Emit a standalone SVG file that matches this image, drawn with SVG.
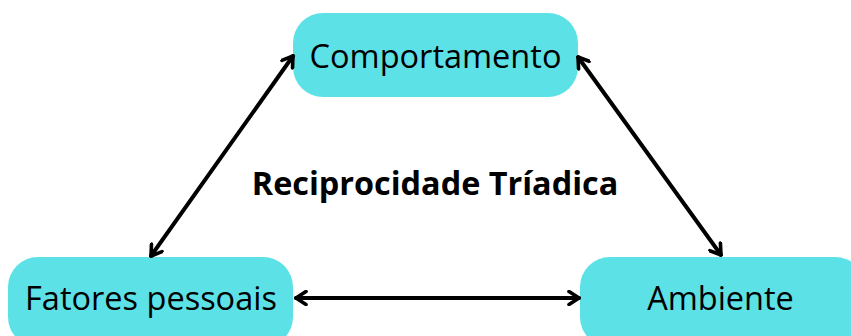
<svg xmlns="http://www.w3.org/2000/svg" width="851" height="336" viewBox="0 0 851 336">
<style>
.box{fill:#5ce1e6;}
.lbl{font-family:"Open Sans","Noto Sans",sans-serif;font-size:32.5px;fill:#000;text-anchor:middle;}
.title{font-family:"Open Sans","Noto Sans",sans-serif;font-size:32.4px;font-weight:bold;fill:#000;text-anchor:middle;}
.conn{stroke:#000;stroke-width:4;fill:none;stroke-linecap:round;}
</style>
<defs>
<marker id="ah" viewBox="0 0 14 16" refX="12" refY="8" markerWidth="14" markerHeight="16" markerUnits="userSpaceOnUse" orient="auto-start-reverse">
<path d="M2,1.5 L12,8 L2,14.5" fill="none" stroke="#000" stroke-width="3.6" stroke-linecap="round" stroke-linejoin="round"/>
</marker>
</defs>
<rect width="851" height="336" fill="#fff"/>
<g id="comportamento">
<rect class="box" x="293" y="13" width="285" height="84" rx="30"/>
<text class="lbl" x="435.5" y="68">Comportamento</text>
</g>
<g id="fatores">
<rect class="box" x="8" y="257" width="285" height="90" rx="30"/>
<text class="lbl" x="151" y="310">Fatores pessoais</text>
</g>
<g id="ambiente">
<rect class="box" x="580" y="257" width="285" height="90" rx="30"/>
<text class="lbl" x="720.5" y="310">Ambiente</text>
</g>
<g id="titulo">
<text class="title" x="435" y="195">Reciprocidade Tríadica</text>
</g>
<g id="connectors">
<line class="conn" x1="151" y1="256" x2="293" y2="56" marker-start="url(#ah)" marker-end="url(#ah)"/>
<line class="conn" x1="578" y1="57" x2="721" y2="255" marker-start="url(#ah)" marker-end="url(#ah)"/>
<line class="conn" x1="296" y1="298" x2="579" y2="298" marker-start="url(#ah)" marker-end="url(#ah)"/>
</g>
</svg>
